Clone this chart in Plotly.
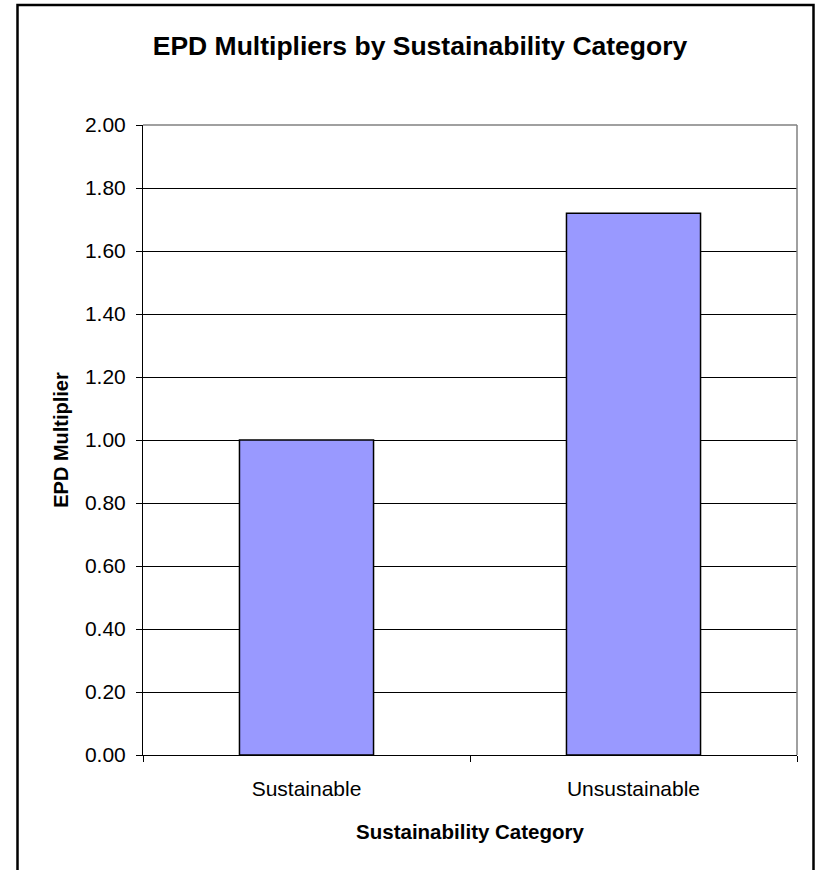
import plotly.graph_objects as go

# Chart data
categories = ["Sustainable", "Unsustainable"]
multipliers = [1.00, 1.72]
y_tick_values = [0.0, 0.2, 0.4, 0.6, 0.8, 1.0, 1.2, 1.4, 1.6, 1.8, 2.0]

FONT = "Liberation Sans, Arial, sans-serif"
W, H = 817, 870
M_L, M_R, M_T, M_B = 143, 20, 125, 115
PW, PH = W - M_L - M_R, H - M_T - M_B


def px_to_paper_x(px):
    return (px - M_L) / PW


def px_to_paper_y(py):
    return (H - M_B - py) / PH


fig = go.Figure(
    go.Bar(
        x=categories,
        y=multipliers,
        marker=dict(color="#9999FF", line=dict(color="black", width=1.5)),
        width=0.41,
    )
)

fig.update_layout(
    width=W,
    height=H,
    margin=dict(l=M_L, r=M_R, t=M_T, b=M_B, autoexpand=False),
    paper_bgcolor="white",
    plot_bgcolor="white",
    showlegend=False,
    font=dict(family=FONT, color="black"),
    title=dict(
        text="<b>EPD Multipliers by Sustainability Category</b>",
        font=dict(size=26.5, family=FONT, color="black"),
        x=420 / W,
        xanchor="center",
        xref="container",
        y=1 - 46 / H,
        yanchor="middle",
        yref="container",
    ),
    xaxis=dict(
        type="category",
        range=[-0.5, 1.5],
        tickson="boundaries",
        ticks="outside",
        ticklen=6,
        tickcolor="black",
        tickwidth=1,
        ticklabelstandoff=15,
        showline=True,
        linecolor="black",
        linewidth=1,
        showgrid=False,
        tickfont=dict(size=21, family=FONT, color="black"),
        title=dict(
            text="<b>Sustainability Category</b>",
            font=dict(size=20.5, family=FONT, color="black"),
            standoff=25,
        ),
        automargin=False,
    ),
    yaxis=dict(
        range=[0, 2],
        tickvals=y_tick_values,
        tickformat=".2f",
        ticks="outside",
        ticklen=6,
        tickcolor="black",
        tickwidth=1,
        ticklabelstandoff=6,
        showline=True,
        linecolor="black",
        linewidth=1,
        showgrid=True,
        gridcolor="black",
        gridwidth=1,
        zeroline=False,
        tickfont=dict(size=21, family=FONT, color="black"),
        title=dict(
            text="<b>EPD Multiplier</b>",
            font=dict(size=20, family=FONT, color="black"),
            standoff=10,
        ),
        automargin=False,
    ),
    shapes=[
        # grey top and right edges of the plot area
        dict(type="line", xref="paper", yref="paper", x0=0, x1=1, y0=1, y1=1,
             line=dict(color="#808080", width=1.5), layer="above"),
        dict(type="line", xref="paper", yref="paper", x0=1, x1=1, y0=0, y1=1,
             line=dict(color="#808080", width=1.5), layer="above"),
        # outer chart frame
        dict(type="rect", xref="paper", yref="paper",
             x0=px_to_paper_x(17.5), x1=px_to_paper_x(813.5),
             y0=px_to_paper_y(880), y1=px_to_paper_y(5),
             line=dict(color="black", width=2.5), fillcolor="rgba(0,0,0,0)",
             layer="above"),
    ],
)

fig.write_html("out.html")
